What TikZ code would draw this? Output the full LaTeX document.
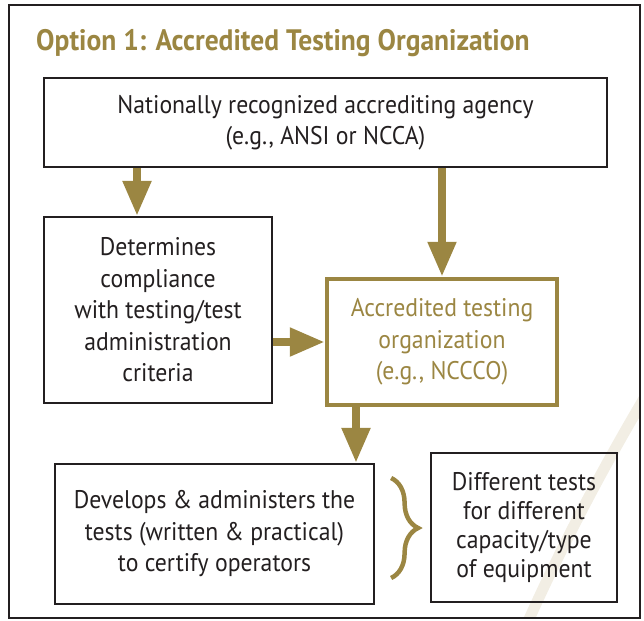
\documentclass[tikz,border=0pt]{standalone}
\usepackage{fontspec}
\setmainfont{PT Sans}[FakeStretch=0.93]
\usepackage{tikz}
\usetikzlibrary{arrows.meta,decorations.pathreplacing}
\definecolor{gold}{RGB}{155,134,66}
\definecolor{ink}{RGB}{35,31,32}
\definecolor{logotint}{RGB}{242,238,228}

\begin{document}
\begin{tikzpicture}[x=1pt,y=-1pt,
		box/.style={draw=ink,line width=2.2pt,fill=white,align=center,
			text=ink,inner sep=0pt,font=\fontsize{25.5}{31.5}\selectfont},
		goldbox/.style={box,draw=gold,line width=4.5pt,text=gold},
		fatarrow/.style={draw=gold,line width=8pt,
			-{Triangle[length=35pt,width=27pt]}}]
	\useasboundingbox (0,0) rectangle (644,620);
	% faint logo behind the boxes
	\begin{scope}
		\clip (9,5) rectangle (640,618);
		\draw[logotint,line width=11pt]
			(652,385) .. controls (612,452) and (566,535) .. (522,635);
	\end{scope}
	\draw[ink,line width=2.6pt] (9,5) rectangle (640,618);
	\node[anchor=base west,inner sep=0pt,text=gold,
		font=\fontsize{29.6}{32}\bfseries\selectfont]
		(title) at (36,51) {Option 1: Accredited Testing Organization};

	\node[box,minimum width=563pt,minimum height=89pt] (agency) at (325.5,122.5)
		{Nationally recognized accrediting agency\\(e.g., ANSI or NCCA)};
	\node[box,minimum width=228pt,minimum height=186pt] (crit) at (158,310)
		{Determines\\compliance\\with testing/test\\administration\\criteria};
	\node[goldbox,minimum width=230pt,minimum height=126pt] (acc) at (442,342)
		{Accredited testing\\organization\\(e.g., NCCCO)};
	\node[box,minimum width=319pt,minimum height=140pt] (dev) at (214.5,534)
		{Develops \& administers the\\tests (written \& practical)\\to certify operators};
	\node[box,fill=none,minimum width=186pt,minimum height=149pt,
		font=\fontsize{25.5}{29}\selectfont] (diff) at (524,527.5)
		{Different tests\\for different\\capacity/type\\of equipment};

	\draw[fatarrow] ([xshift=-21pt]agency.south -| crit.north) -- ([xshift=-21pt]crit.north);
	\draw[fatarrow] (agency.south -| acc.north) -- (acc.north);
	\draw[fatarrow] (crit.east |- acc.west) -- (acc.west);
	\draw[fatarrow] ([xshift=-86pt]acc.south) -- ([xshift=-86pt]acc.south |- dev.north);
	\draw[gold,line width=4.5pt,decorate,decoration={brace,amplitude=27pt}]
		([xshift=16pt,yshift=56pt]dev.east) -- ([xshift=16pt,yshift=-44pt]dev.east);
\end{tikzpicture}
\end{document}
